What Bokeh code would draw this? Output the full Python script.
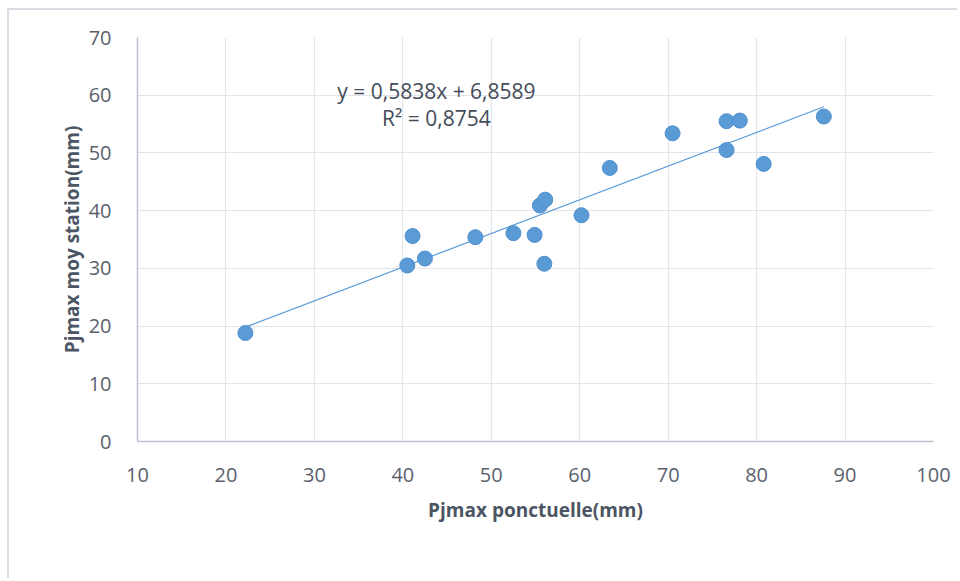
from bokeh.plotting import figure
from bokeh.models import Range1d, FixedTicker, Label
from bokeh.embed import file_html
from bokeh.resources import INLINE

# Data
pj_ponctuelle = [22.2, 41.1, 40.5, 42.5, 48.2, 52.5, 54.9, 56.0, 55.5, 56.1,
                 60.2, 63.4, 70.5, 76.6, 78.1, 76.6, 80.8, 87.6]
pj_station = [18.8, 35.6, 30.5, 31.7, 35.4, 36.1, 35.8, 30.8, 40.9, 41.9,
              39.2, 47.4, 53.4, 55.5, 55.6, 50.5, 48.1, 56.3]
slope = 0.5838
intercept = 6.8589
r2 = 0.8754
x_ticks = [10, 20, 30, 40, 50, 60, 70, 80, 90, 100]
y_ticks = [0, 10, 20, 30, 40, 50, 60, 70]

FONT = "Open Sans"
TICK_COLOR = "#5a616c"
TITLE_COLOR = "#4b5563"

p = figure(width=950, height=570, output_backend="svg", toolbar_location=None,
           x_range=Range1d(10, 100), y_range=Range1d(0, 70),
           min_border_left=128, min_border_right=26, min_border_top=27,
           min_border_bottom=139)
p.styles = {"margin-left": "7px", "margin-top": "8px",
            "border-left": "2px solid #d9dde3", "border-top": "2px solid #d9dde3"}
p.outline_line_color = None
p.background_fill_color = "white"
p.border_fill_color = "white"

for ax, ticks in ((p.xaxis[0], x_ticks), (p.yaxis[0], y_ticks)):
    ax.ticker = FixedTicker(ticks=ticks)
    ax.major_tick_line_color = None
    ax.minor_tick_line_color = None
    ax.axis_line_color = "#bcc3cd"
    ax.axis_line_width = 1.5
    ax.major_label_text_font = FONT
    ax.major_label_text_font_size = "20px"
    ax.major_label_text_color = TICK_COLOR
    ax.axis_label_text_font = FONT
    ax.axis_label_text_font_size = "19px"
    ax.axis_label_text_font_style = "bold"
    ax.axis_label_text_color = TITLE_COLOR

p.xaxis.axis_label = "Pjmax ponctuelle(mm)"
p.yaxis.axis_label = "Pjmax moy station(mm)"
p.xaxis.major_label_standoff = 20
p.yaxis.major_label_standoff = 20
p.xaxis.axis_label_standoff = 12
p.yaxis.axis_label_standoff = 1

for g in (p.xgrid[0], p.ygrid[0]):
    g.grid_line_color = "#e1e5eb"
    g.grid_line_width = 1.2

# Trend line from regression coefficients
x0, x1 = min(pj_ponctuelle), max(pj_ponctuelle)
p.line([x0, x1], [slope * x0 + intercept, slope * x1 + intercept],
       line_color="#5b9bd5", line_width=1.2)

p.scatter(pj_ponctuelle, pj_station, size=15, fill_color="#5b9bd5",
          line_color="#4e8fd0", line_width=1)

eq_text = "y = " + f"{slope:.4f}".replace(".", ",") + "x + " + f"{intercept:.4f}".replace(".", ",")
r2_text = "R² = " + f"{r2:.4f}".replace(".", ",")
for txt, yy in ((eq_text, 60.8), (r2_text, 56.0)):
    p.add_layout(Label(x=43.8, y=yy, text=txt, text_align="center",
                       text_baseline="alphabetic", text_font=FONT,
                       text_font_size="21px", text_color="#434c59"))

open("out.html", "w").write(file_html(p, INLINE))
